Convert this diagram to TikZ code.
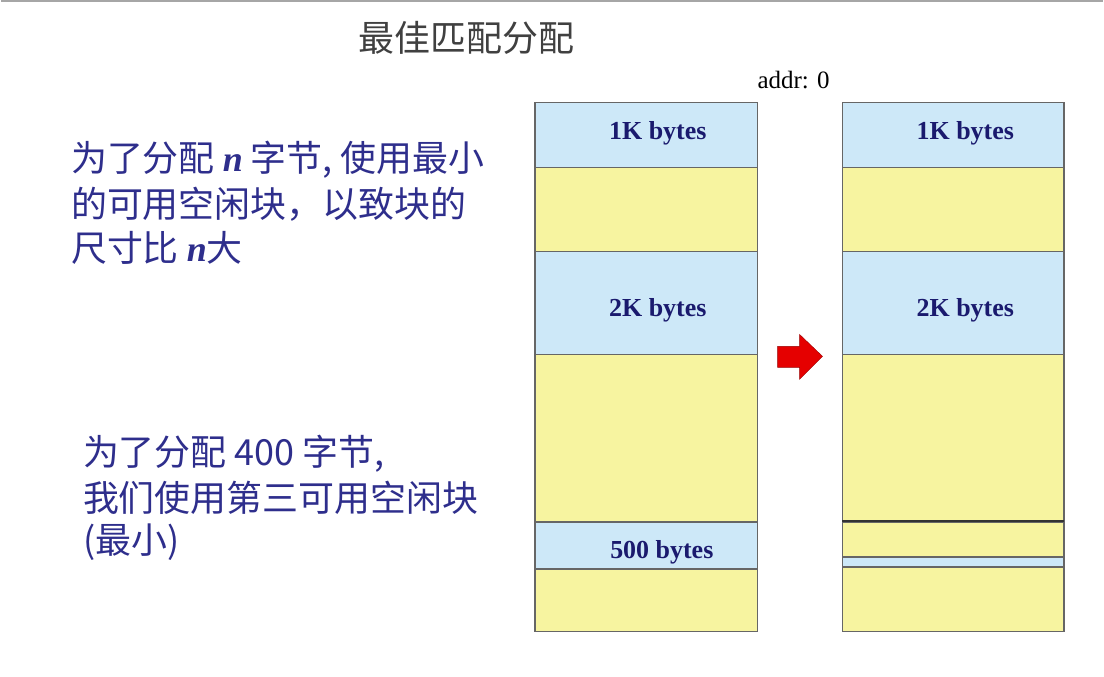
\documentclass[tikz,border=0pt]{standalone}
\usepackage{fontspec}
\setmainfont{Liberation Serif}
\newfontfamily\cjk{Noto Sans CJK SC}
\definecolor{blk}{HTML}{CDE8F8}
\definecolor{ylw}{HTML}{F7F4A0}
\definecolor{txt}{HTML}{2E2E8C}
\definecolor{lab}{HTML}{1A1A6E}
\begin{document}
\begin{tikzpicture}[x=1pt,y=-1pt,
  cell/.style={draw=gray!80!black,line width=1.2pt},
  lbl/.style={font=\bfseries\fontsize{26}{26}\selectfont,text=lab},
  ztxt/.style={font=\cjk\fontsize{36}{36}\selectfont,text=txt,anchor=west,inner sep=0pt}]
\fill[white] (0,0) rectangle (1104,678);
\draw[gray!70,line width=2pt] (0,1) -- (1104,1);
\node[font=\cjk\fontsize{36}{36}\selectfont,text=black!75] (title) at (466,38) {最佳匹配分配};
\node[font=\fontsize{25}{25}\selectfont] (addr) at (794,80) {addr: 0};
% left column
\foreach \a/\b/\c in {103/168/blk,168/252/ylw,252/355/blk,355/523/ylw,523/570/blk,570/633/ylw}
  \filldraw[cell,fill=\c] (535,\a) rectangle (758,\b);
\node[lbl] (l1) at (658,134) {1K bytes};
\node[lbl] (l2) at (658,311) {2K bytes};
\node[lbl] (l3) at (662,553) {500 bytes};
% right column
\foreach \a/\b/\c in {103/168/blk,168/252/ylw,252/355/blk,355/523/ylw,523/558/ylw,558/568/blk,568/633/ylw}
  \filldraw[cell,fill=\c] (843,\a) rectangle (1065,\b);
\draw[black!80,line width=2pt] (843,522) -- (1065,522);
\node[lbl] (r1) at (966,134) {1K bytes};
\node[lbl] (r2) at (966,311) {2K bytes};
% arrow
\fill[red!90!black,draw=red!60!black] (778,347) -- (800,347) -- (800,335) -- (823,357) -- (800,380) -- (800,368) -- (778,368) -- cycle;
% left text
\node[ztxt] (t1) at (70,160) {为了分配 {\rmfamily\bfseries\itshape n} 字节, 使用最小};
\node[ztxt] (t2) at (70,205) {的可用空闲块，以致块的};
\node[ztxt] (t3) at (70,248) {尺寸比 {\rmfamily\bfseries\itshape n}大};
\node[ztxt] (t4) at (82,455) {为了分配 400 字节,};
\node[ztxt] (t5) at (82,499) {我们使用第三可用空闲块};
\node[ztxt] (t6) at (82,543) {(最小)};
\end{tikzpicture}
\end{document}
